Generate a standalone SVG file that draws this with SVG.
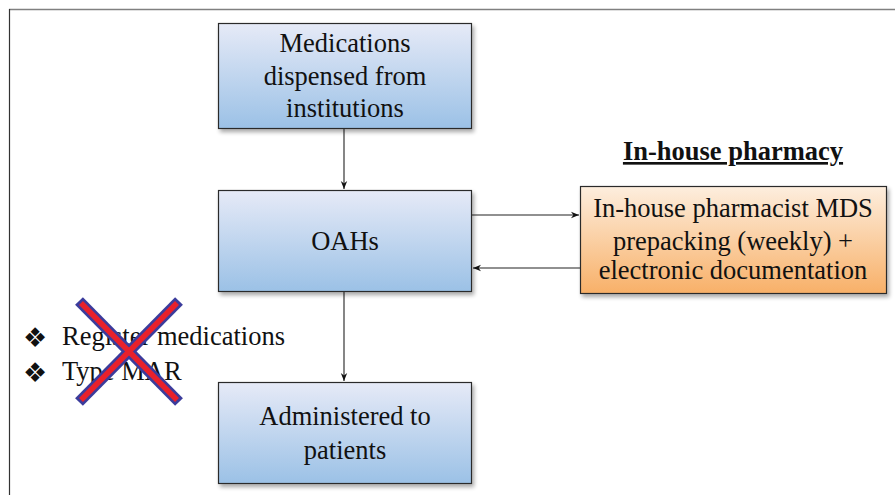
<svg xmlns="http://www.w3.org/2000/svg" width="895" height="495" viewBox="0 0 895 495">
<defs>
<linearGradient id="blue" x1="0" y1="0" x2="0" y2="1">
<stop offset="0" stop-color="#e6eaf7"/>
<stop offset="1" stop-color="#9bc1e6"/>
</linearGradient>
<linearGradient id="orange" x1="0" y1="0" x2="0" y2="1">
<stop offset="0" stop-color="#fdeede"/>
<stop offset="1" stop-color="#f8b068"/>
</linearGradient>
<filter id="sh" x="-10%" y="-10%" width="120%" height="130%">
<feGaussianBlur in="SourceAlpha" stdDeviation="2"/>
<feOffset dx="2" dy="3" result="b"/>
<feComponentTransfer><feFuncA type="linear" slope="0.35"/></feComponentTransfer>
<feMerge><feMergeNode/><feMergeNode in="SourceGraphic"/></feMerge>
</filter>
<marker id="arr" viewBox="0 0 10 10" refX="10" refY="5" markerWidth="8" markerHeight="8" markerUnits="userSpaceOnUse" orient="auto">
<path d="M0,1 L10,5 L0,9 L3,5 Z" fill="#111"/>
</marker>
</defs>
<style>
.box{stroke:#2b2b2b;stroke-width:1.2;filter:url(#sh)}
text{font-family:'Liberation Serif','DejaVu Serif',serif}
.t{font-size:26.5px;fill:#111;text-anchor:middle}
.b{font-size:26.5px;fill:#111}
.bu{font-family:'DejaVu Sans',sans-serif;font-size:27px;fill:#111}
.c{stroke:#222;stroke-width:1.1;fill:none;marker-end:url(#arr)}
</style>
<rect x="0" y="0" width="895" height="495" fill="#fff"/>
<line x1="9" y1="9.5" x2="895" y2="9.5" stroke="#808080" stroke-width="1.6"/>
<line x1="9.5" y1="9" x2="9.5" y2="495" stroke="#333" stroke-width="1.2"/>

<g id="connectors">
<line class="c" x1="344" y1="129" x2="344" y2="189"/>
<line class="c" x1="344" y1="292" x2="344" y2="381"/>
<line class="c" x1="472" y1="215" x2="579" y2="215"/>
<line class="c" x1="580" y1="268" x2="473" y2="268"/>
</g>

<g id="n1">
<rect class="box" x="218.5" y="23.5" width="253" height="105" fill="url(#blue)"/>
<text class="t" x="345" y="52">Medications</text>
<text class="t" x="345" y="85">dispensed from</text>
<text class="t" x="345" y="117">institutions</text>
</g>

<g id="n2">
<rect class="box" x="218.5" y="190.5" width="253" height="101" fill="url(#blue)"/>
<text class="t" x="345" y="250">OAHs</text>
</g>

<g id="n3">
<rect class="box" x="218.5" y="382.5" width="253" height="101" fill="url(#blue)"/>
<text class="t" x="345" y="425">Administered to</text>
<text class="t" x="345" y="459">patients</text>
</g>

<g id="n4">
<rect class="box" x="580.5" y="186.5" width="306" height="107" fill="url(#orange)"/>
<text class="t" x="733" y="217">In-house pharmacist MDS</text>
<text class="t" x="733" y="250">prepacking (weekly) +</text>
<text class="t" x="733" y="279">electronic documentation</text>
</g>

<g id="title">
<text class="t" x="733" y="160" font-weight="bold" font-size="25" text-decoration="underline">In-house pharmacy</text>
</g>

<g id="bullets">
<text class="bu" x="23" y="347">❖</text>
<text class="b" x="62" y="345">Register medications</text>
<text class="bu" x="23" y="382">❖</text>
<text class="b" x="62" y="380">Type MAR</text>
</g>

<g id="cross">
<line x1="79" y1="301" x2="179" y2="402" stroke="#3b3c9c" stroke-width="11"/>
<line x1="179" y1="301" x2="79" y2="402" stroke="#3b3c9c" stroke-width="11"/>
<line x1="81" y1="303" x2="177" y2="400" stroke="#e8212b" stroke-width="5.5"/>
<line x1="177" y1="303" x2="81" y2="400" stroke="#e8212b" stroke-width="5.5"/>
</g>
</svg>
